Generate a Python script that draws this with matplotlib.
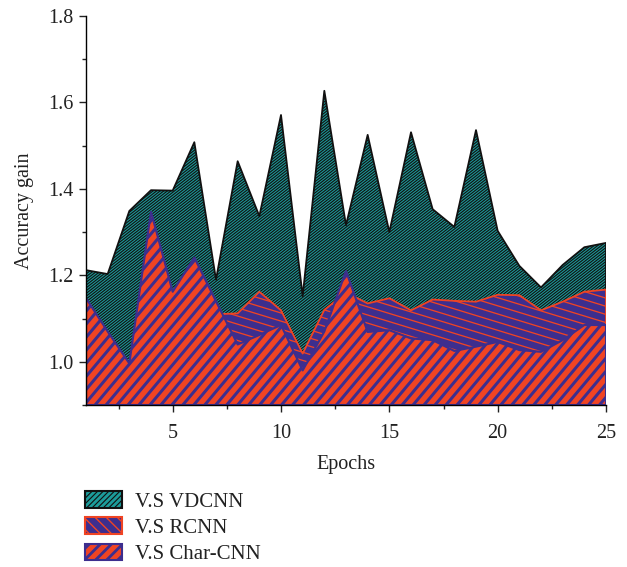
import numpy as np
import matplotlib
matplotlib.use("Agg")
import matplotlib.pyplot as plt
from matplotlib.collections import LineCollection
from matplotlib.patches import Rectangle, Patch
from matplotlib.legend_handler import HandlerBase
from matplotlib.ticker import MultipleLocator, FormatStrFormatter

plt.rcParams['font.family'] = ['Liberation Serif', 'DejaVu Serif']

# ---------------- data ----------------
epochs = list(range(1, 26))
vdcnn = [1.212, 1.203, 1.349, 1.397, 1.396, 1.508, 1.190, 1.464, 1.337, 1.571,
         1.152, 1.627, 1.316, 1.525, 1.300, 1.531, 1.353, 1.312, 1.536, 1.303,
         1.222, 1.172, 1.224, 1.265, 1.275]
rcnn = [1.130, 1.050, 0.980, 1.300, 1.140, 1.220, 1.110, 1.112, 1.162, 1.119,
        1.019, 1.120, 1.160, 1.135, 1.147, 1.119, 1.144, 1.141, 1.139, 1.155,
        1.154, 1.119, 1.139, 1.162, 1.167]
charcnn = [1.147, 1.070, 0.996, 1.347, 1.162, 1.241, 1.140, 1.040, 1.062, 1.085,
           0.980, 1.070, 1.210, 1.069, 1.073, 1.054, 1.050, 1.025, 1.035, 1.046,
           1.027, 1.023, 1.050, 1.085, 1.085]
labels = ['V.S VDCNN', 'V.S RCNN', 'V.S Char-CNN']

TEAL = '#1c9c9b'
ORANGE = '#f04423'
PURPLE = '#3d2e8e'
BLACK = '#111111'
TXT = '#222222'

W_PX, H_PX = 627, 567
fig = plt.figure(figsize=(W_PX / 100, H_PX / 100), dpi=100)
ax_l, ax_r, ax_t, ax_b = 86, 606, 16, 405
ax = fig.add_axes([ax_l / W_PX, 1 - ax_b / H_PX, (ax_r - ax_l) / W_PX, (ax_b - ax_t) / H_PX])
ax.set_xlim(1, 25)
ax.set_ylim(0.9, 1.8)
AW, AH = ax_r - ax_l, ax_b - ax_t


def hatch_lines(poly, angle_deg, spacing_px, color, lw_px, z):
    th = np.deg2rad(angle_deg)
    d = np.array([np.cos(th), np.sin(th)])
    n = np.array([-np.sin(th), np.cos(th)])
    c = np.array([AW / 2, AH / 2])
    L = np.hypot(AW, AH)
    N = int(L / spacing_px) + 2
    segs = []
    for k in range(-N, N + 1):
        p = c + n * k * spacing_px
        a = p - d * L
        b = p + d * L
        segs.append([(a[0] / AW, a[1] / AH), (b[0] / AW, b[1] / AH)])
    lc = LineCollection(segs, colors=color, linewidths=lw_px * 0.72,
                        transform=ax.transAxes, zorder=z, antialiased=True)
    ax.add_collection(lc)
    lc.set_clip_path(poly.get_paths()[0], ax.transData)


styles = [
    # data, face, edge/hatch color, angle, spacing, hatch lw px, edge lw
    (vdcnn, TEAL, BLACK, 38, 2.2, 1.15, 1.3),
    (rcnn, PURPLE, ORANGE, -17, 7.8, 1.3, 1.3),
    (charcnn, ORANGE, PURPLE, 50, 8.4, 3.0, 1.5),
]
for i, (vals, face, ec, ang, sp, hlw, elw) in enumerate(styles):
    z = 2 + i
    poly = ax.fill_between(epochs, 0.9, vals, facecolor=face, edgecolor='none', zorder=z)
    hatch_lines(poly, ang, sp, ec, hlw, z + 0.1)
    ax.fill_between(epochs, 0.9, vals, facecolor='none', edgecolor=ec,
                    linewidth=elw, zorder=z + 0.2)

# axes styling
for s in ['top', 'right']:
    ax.spines[s].set_visible(False)
for s in ['left', 'bottom']:
    ax.spines[s].set_linewidth(1.0)
    ax.spines[s].set_zorder(10)
ax.xaxis.set_major_locator(MultipleLocator(5))
ax.xaxis.set_minor_locator(MultipleLocator(2.5))
ax.yaxis.set_minor_locator(MultipleLocator(0.1))
ax.set_yticks([1.0, 1.2, 1.4, 1.6, 1.8])
ax.yaxis.set_major_formatter(FormatStrFormatter('%.1f'))
ax.tick_params(axis='both', which='major', direction='out', length=5, width=1,
               labelsize=14.5, colors=TXT)
ax.tick_params(axis='y', which='major', pad=4)
ax.tick_params(axis='x', which='major', pad=9)
ax.tick_params(axis='both', which='minor', direction='out', length=3, width=1,
               colors=TXT)
ax.set_xlabel('Epochs', fontsize=14.5, labelpad=8, color=TXT)
ax.set_ylabel('Accuracy gain', fontsize=14.5, labelpad=10, color=TXT)


class HatchHandler(HandlerBase):
    def __init__(self, face, edge, hatch, hlw):
        super().__init__()
        self.face, self.edge, self.hatch, self.hlw = face, edge, hatch, hlw

    def create_artists(self, legend, orig_handle, xdescent, ydescent, width, height,
                       fontsize, trans):
        r = Rectangle((-xdescent, -ydescent), width, height, facecolor=self.face,
                      edgecolor=self.edge, hatch=self.hatch, linewidth=1.5,
                      transform=trans)
        if hasattr(r, 'set_hatch_linewidth'):
            r.set_hatch_linewidth(self.hlw)
        return [r]


handles = [Patch(label=l) for l in labels]
hmap = {
    handles[0]: HatchHandler(TEAL, BLACK, '//////', 0.8),
    handles[1]: HatchHandler(PURPLE, ORANGE, '\\\\\\', 1.0),
    handles[2]: HatchHandler(ORANGE, PURPLE, '///', 2.0),
}
fs_leg = 15
fig.legend(handles=handles, labels=labels, handler_map=hmap, loc='upper left',
           bbox_to_anchor=(85 / W_PX, 1 - 491 / H_PX), frameon=False, fontsize=fs_leg,
           handlelength=1.78, handleheight=0.87, labelspacing=0.27, handletextpad=0.63,
           borderpad=0, borderaxespad=0, labelcolor=TXT)

fig.savefig('out.png', dpi=100)
